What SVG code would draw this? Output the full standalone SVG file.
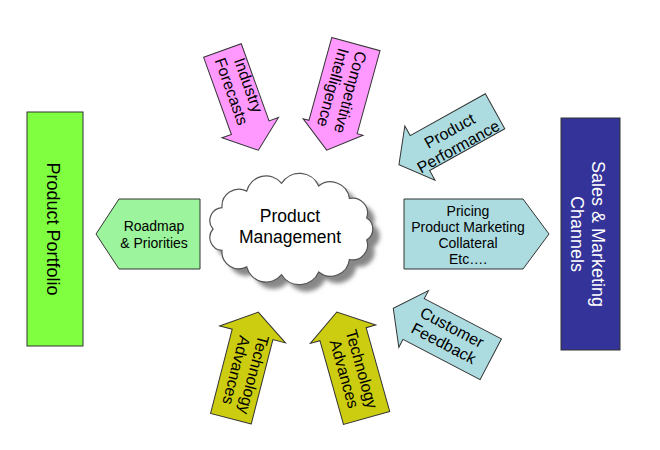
<svg xmlns="http://www.w3.org/2000/svg" width="660" height="450" viewBox="0 0 660 450">
<defs>
<style>
.ol{stroke:#333;stroke-width:1;stroke-linejoin:miter}
.pink{fill:#FF99FF}
.cyan{fill:#ACDCE0}
.olive{fill:#CCCC11}
.t{font-family:"Liberation Sans",Arial,sans-serif;fill:#000;text-anchor:middle}
.t16{font-size:16px}
.t14{font-size:14px}
</style>
<filter id="blur" x="-10%" y="-10%" width="120%" height="120%"><feGaussianBlur stdDeviation="2"/></filter>
<path id="cloudShape" d="M213,229 A13,13 0 0 1 222,207.6 A17,17 0 0 1 246.7,191.1 A20,20 0 0 1 281.6,183.3 A21,21 0 0 1 318.7,186 A19,19 0 0 1 349.4,198.5 A15,15 0 0 1 366.7,218 A13,13 0 0 1 366.7,240 A15,15 0 0 1 349.4,259.5 A19,19 0 0 1 318.7,272 A21,21 0 0 1 281.6,274.7 A20,20 0 0 1 246.7,266.9 A17,17 0 0 1 222,250.4 A13,13 0 0 1 213,229 Z"/>
</defs>
<rect width="660" height="450" fill="#fff"/>

<g id="product-portfolio">
<rect class="ol" x="27" y="112" width="56" height="234" fill="#80FF40"/>
<text class="t" font-size="18" transform="translate(52,229) rotate(90)" y="5.5">Product Portfolio</text>
</g>

<g id="sales-marketing">
<rect class="ol" x="561" y="118" width="59" height="232" fill="#333399"/>
<text class="t" font-size="18" style="fill:#fff" transform="translate(588,234) rotate(90)"><tspan x="0" y="-4">Sales &amp; Marketing</tspan><tspan x="0" y="17">Channels</tspan></text>
</g>

<g id="product-management">
<use href="#cloudShape" transform="translate(7,7)" fill="#888" filter="url(#blur)"/>
<use href="#cloudShape" fill="#fff" stroke="#555" stroke-width="1.2"/>
<text class="t" font-size="17.5" x="290" y="222">Product</text>
<text class="t" font-size="17.5" x="290" y="243">Management</text>
</g>

<g id="connectors">
<g id="roadmap">
<polygon class="ol" points="96,234 119,199 200,199 200,269 119,269" fill="#9CF59C"/>
<text class="t t14" x="154" y="231">Roadmap</text>
<text class="t t14" x="154" y="248">&amp; Priorities</text>
</g>

<g id="pricing">
<polygon class="ol cyan" points="404,199 523,199 549,234 523,269 404,269"/>
<text class="t t14" x="468" y="216">Pricing</text>
<text class="t t14" x="468" y="232">Product Marketing</text>
<text class="t t14" x="468" y="248">Collateral</text>
<text class="t t14" x="468" y="264">Etc….</text>
</g>

<g id="industry-forecasts">
<polygon class="ol pink" transform="translate(240.4,100.4) rotate(-19.8)" points="-20,-53 20,-53 20,29 30,29 0,53 -30,29 -20,29"/>
<text class="t t16" transform="translate(240,88.3) rotate(70.2)"><tspan x="0" y="-3.5">Industry</tspan><tspan x="0" y="14.5">Forecasts</tspan></text>
</g>

<g id="competitive-intelligence">
<polygon class="ol pink" transform="translate(341.3,97.1) rotate(15.4)" points="-25,-55 25,-55 25,31 31,31 0,55 -31,31 -25,31"/>
<text class="t t16" transform="translate(341.7,90) rotate(105.4)"><tspan x="0" y="-3.5">Competitive</tspan><tspan x="0" y="14.5">Intelligence</tspan></text>
</g>

<g id="product-performance">
<polygon class="ol cyan" transform="translate(447,138) rotate(60.9)" points="-20,-55 20,-55 20,31 31,31 0,55 -31,31 -20,31"/>
<text class="t t16" transform="translate(454,138.7) rotate(-29.1)"><tspan x="0" y="-3.5">Product</tspan><tspan x="0" y="14.5">Performance</tspan></text>
</g>

<g id="customer-feedback">
<polygon class="ol cyan" transform="translate(442,333.8) rotate(117.6)" points="-23,-55 23,-55 23,32 32,32 0,55 -32,32 -23,32"/>
<text class="t t16" transform="translate(447.8,335.3) rotate(27.6)"><tspan x="0" y="-3.5">Customer</tspan><tspan x="0" y="14.5">Feedback</tspan></text>
</g>

<g id="technology-advances-left">
<polygon class="ol olive" transform="translate(244.6,365.4) rotate(194.4)" points="-21,-55 21,-55 21,32 34,32 0,55 -34,32 -21,32"/>
<text class="t t16" transform="translate(245,372.5) rotate(104.4)"><tspan x="0" y="-3.5">Technology</tspan><tspan x="0" y="14.5">Advances</tspan></text>
</g>

<g id="technology-advances-right">
<polygon class="ol olive" transform="translate(351.7,365) rotate(164.3)" points="-24,-55 24,-55 24,32 34,32 0,55 -34,32 -24,32"/>
<text class="t t16" transform="translate(353,371.5) rotate(74.3)"><tspan x="0" y="-3.5">Technology</tspan><tspan x="0" y="14.5">Advances</tspan></text>
</g>
</g>
</svg>
